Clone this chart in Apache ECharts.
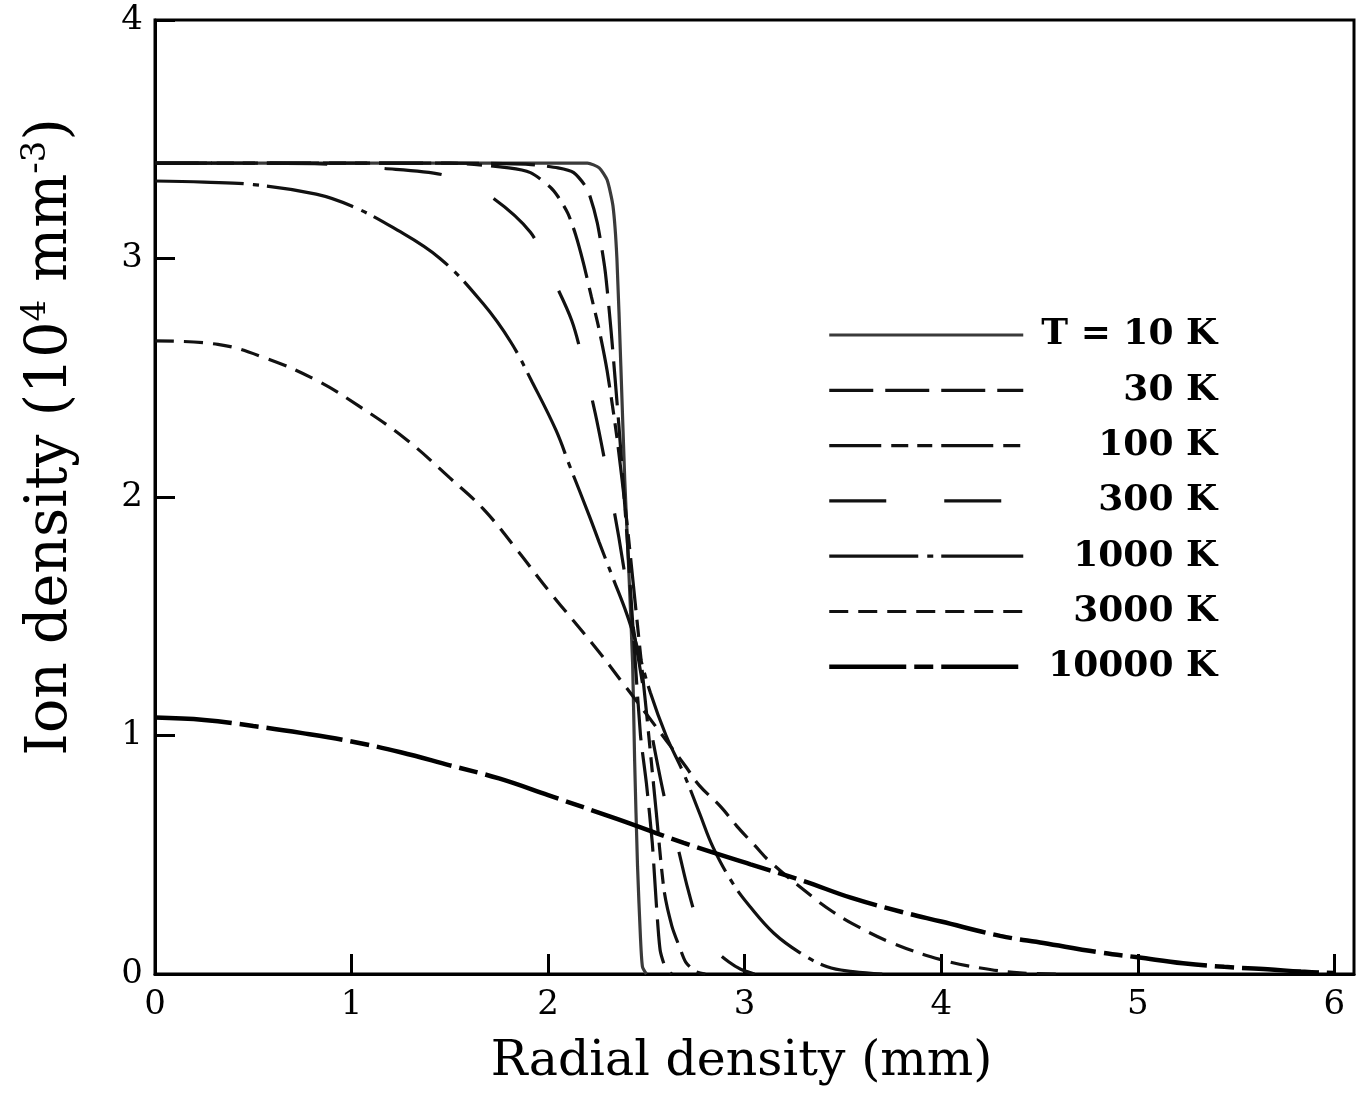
<!DOCTYPE html>
<html>
<head>
<meta charset="utf-8">
<script src="https://cdn.jsdelivr.net/npm/echarts@6/dist/echarts.min.js"></script>
<style>
html,body{margin:0;padding:0;background:#fff;}
#chart{width:1360px;height:1093px;}
</style>
</head>
<body>
<div id="chart"></div>
<script>
// ---- data (x = radial position in mm, y = ion density in 10^4 mm^-3) ----
const seriesNames = ['T = 10 K', '30 K', '100 K', '300 K', '1000 K', '3000 K', '10000 K'];
const xTickValues = [0, 1, 2, 3, 4, 5, 6];
const yTickValues = [0, 1, 2, 3, 4];

const t10 = [[0,3.40],[1,3.40],[2,3.40],[2.2,3.40],[2.26,3.38],[2.30,3.33],[2.33,3.22],[2.35,3.0],[2.37,2.55],[2.39,2.07],[2.41,1.7],[2.43,1.3],[2.44,0.9],[2.455,0.45],[2.47,0.15],[2.48,0.03],[2.5,0]];
const t30 = [[0,3.40],[1.5,3.40],[1.9,3.395],[2.05,3.38],[2.13,3.36],[2.2,3.29],[2.25,3.15],[2.29,2.95],[2.32,2.7],[2.36,2.3],[2.4,1.85],[2.44,1.35],[2.47,1.0],[2.5,0.8],[2.53,0.55],[2.55,0.3],[2.57,0.1],[2.6,0.02],[2.63,0]];
const t100 = [[0,3.40],[1.5,3.40],[1.8,3.38],[1.91,3.36],[2.01,3.30],[2.05,3.26],[2.1,3.19],[2.14,3.10],[2.18,2.98],[2.22,2.84],[2.26,2.70],[2.3,2.53],[2.35,2.25],[2.4,1.9],[2.45,1.5],[2.5,1.1],[2.55,0.68],[2.59,0.35],[2.63,0.2],[2.67,0.11],[2.7,0.05],[2.75,0.01],[2.8,0]];
const t300 = [[0,3.40],[0.5,3.40],[0.9,3.395],[1.13,3.38],[1.47,3.35],[1.69,3.27],[1.91,3.11],[2.01,2.94],[2.12,2.74],[2.18,2.56],[2.24,2.35],[2.3,2.1],[2.36,1.83],[2.42,1.52],[2.48,1.22],[2.54,0.95],[2.6,0.71],[2.66,0.53],[2.71,0.36],[2.77,0.2],[2.85,0.1],[2.92,0.05],[2.98,0.02],[3.05,0]];
const t1000 = [[0,3.325],[0.25,3.32],[0.5,3.31],[0.82,3.27],[1.0,3.22],[1.21,3.13],[1.45,3.0],[1.67,2.81],[1.81,2.65],[1.92,2.48],[2.04,2.28],[2.11,2.13],[2.21,1.92],[2.26,1.81],[2.33,1.66],[2.40,1.51],[2.45,1.38],[2.52,1.18],[2.6,1.0],[2.69,0.84],[2.77,0.675],[2.84,0.53],[2.94,0.38],[3.03,0.28],[3.15,0.17],[3.28,0.09],[3.42,0.03],[3.55,0.01],[3.7,0]];
const t3000 = [[0,2.655],[0.32,2.64],[0.57,2.58],[0.82,2.49],[1.04,2.38],[1.28,2.24],[1.5,2.08],[1.67,1.95],[1.84,1.78],[2.01,1.60],[2.25,1.36],[2.38,1.22],[2.5,1.09],[2.6,0.98],[2.7,0.87],[2.77,0.79],[2.88,0.70],[2.96,0.62],[3.05,0.54],[3.13,0.47],[3.35,0.32],[3.45,0.26],[3.55,0.21],[3.75,0.13],[4.0,0.06],[4.2,0.025],[4.4,0.005],[4.6,0]];
const t10000 = [[0,1.075],[0.25,1.065],[0.5,1.04],[0.75,1.01],[1.0,0.975],[1.25,0.93],[1.5,0.875],[1.75,0.82],[2.0,0.75],[2.35,0.65],[2.69,0.55],[3.03,0.46],[3.3,0.39],[3.54,0.32],[3.8,0.26],[4.0,0.22],[4.3,0.16],[4.52,0.13],[4.81,0.09],[5.0,0.07],[5.23,0.045],[5.44,0.03],[5.66,0.02],[5.83,0.01],[6.0,0.004]];

const curveData = [t10, t30, t100, t300, t1000, t3000, t10000];

// ---- styles ----
const lineStyles = [
  {color:'#3a3a3a', width:3.2, type:'solid'},
  {color:'#111', width:3.2, type:[44,12]},
  {color:'#111', width:3.2, type:[52,10,17,9,15,9]},
  {color:'#111', width:3.2, type:[57,58]},
  {color:'#111', width:3.2, type:[89,9,6,8]},
  {color:'#111', width:3.2, type:[19,10]},
  {color:'#000', width:4.5, type:[77,8,19,8]}
];
const smoothing = [0.2, 0.2, 0.25, 0.3, 0.4, 0.4, 0.4];

const serif = 'DejaVu Serif';

const series = seriesNames.map((name, i) => ({
  name: name,
  type: 'line',
  data: curveData[i],
  symbol: 'none',
  showSymbol: false,
  smooth: smoothing[i],
  lineStyle: lineStyles[i],
  itemStyle: {color: lineStyles[i].color},
  z: 3
}));

const chart = echarts.init(document.getElementById('chart'), null, {renderer:'canvas'});
chart.setOption({
  animation: false,
  backgroundColor: '#fff',
  grid: {left:155, right:6, top:20, bottom:119, show:true, borderColor:'#000', borderWidth:3, backgroundColor:'transparent'},
  xAxis: {
    type: 'value', min: 0, max: 6.1, interval: 1,
    name: 'Radial density (mm)',
    nameLocation: 'middle', nameGap: 64,
    nameTextStyle: {fontFamily: serif, fontSize: 49, color:'#000', padding:[0,26,0,0]},
    axisLine: {show:true, onZero:false, lineStyle:{color:'#000', width:3}},
    axisTick: {show:true, inside:true, length:20, lineStyle:{color:'#000', width:3}},
    axisLabel: {show:true, margin:14, fontFamily: serif, fontSize: 34, color:'#000', showMaxLabel:false,
      formatter: v => (xTickValues.indexOf(v) >= 0 ? String(v) : '')},
    splitLine: {show:false}
  },
  yAxis: {
    type: 'value', min: 0, max: 4, interval: 1,
    name: '{a|Ion density (10}{s|4}{a| mm}{s|-3}{a|)}',
    nameLocation: 'middle', nameGap: 72, nameRotate: 90,
    nameTextStyle: {
      padding:[0,0,0,120],
      rich: {
        a: {fontFamily: serif, fontSize: 57, color:'#000', lineHeight: 64},
        s: {fontFamily: serif, fontSize: 34, color:'#000', lineHeight: 64, verticalAlign:'top'}
      }
    },
    axisLine: {show:true, onZero:false, lineStyle:{color:'#000', width:3}},
    axisTick: {show:true, inside:true, length:20, lineStyle:{color:'#000', width:3}},
    axisLabel: {show:true, margin:12, fontFamily: serif, fontSize: 34, color:'#000',
      formatter: v => (yTickValues.indexOf(v) >= 0 ? String(v) : '')},
    splitLine: {show:false}
  },
  legend: {
    show: true,
    orient: 'vertical',
    left: 822, top: 312,
    itemWidth: 194, itemHeight: 20, itemGap: 19.3,
    data: seriesNames,
    itemStyle: {opacity: 0, borderWidth: 0},
    lineStyle: {width: 'inherit', type: 'inherit', color: 'inherit'},
    formatter: name => '{r|' + name + '}',
    textStyle: {
      rich: {
        r: {width: 189, align: 'right', fontFamily: serif, fontSize: 36, fontWeight: 'bold', color:'#000', lineHeight: 40}
      }
    },
    selectedMode: false
  },
  series: series
});
</script>
</body>
</html>
